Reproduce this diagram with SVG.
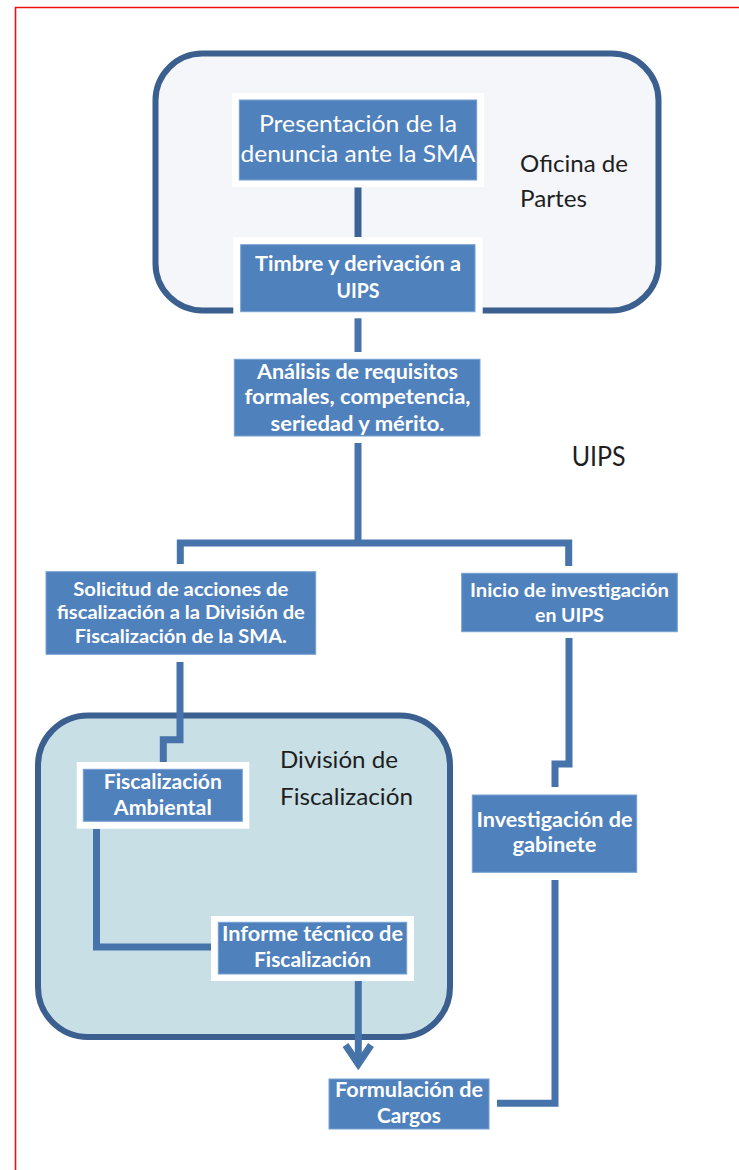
<svg xmlns="http://www.w3.org/2000/svg" width="739" height="1170" viewBox="0 0 739 1170">
<style>
.bg{fill:#ffffff}
.border{fill:none;stroke:#f01010;stroke-width:1.6}
.cont1{fill:#f4f6f9;stroke:#3b5f8e;stroke-width:6}
.cont2{fill:#c8dfe6;stroke:#3b5f8e;stroke-width:6}
.frame{fill:#ffffff}
.box{fill:#4f81bd;stroke:#76a0d2;stroke-width:1}
.bt{font-family:Lato,"Liberation Sans",sans-serif;font-weight:bold;fill:#ffffff;text-anchor:middle}
.rt{font-family:Lato,"Liberation Sans",sans-serif;font-weight:normal;fill:#ffffff;text-anchor:middle}
.lbl{font-family:Lato,"Liberation Sans",sans-serif;fill:#1e1e1e}
.conn{fill:none;stroke:#4673aa;stroke-width:7;stroke-linejoin:miter;stroke-linecap:butt}
.conn-dark{fill:none;stroke:#3d6394;stroke-width:7;stroke-linecap:butt}
</style>
<rect class="bg" x="0" y="0" width="739" height="1170"/>
<path class="border" d="M739,7.5 H15.5 V1170"/>

<g id="oficina-de-partes">
  <rect class="cont1" x="155.5" y="53.5" width="503" height="257" rx="47" ry="47"/>
  <text class="lbl" font-size="23" x="520" y="171.7" textLength="108" lengthAdjust="spacingAndGlyphs">Oficina de</text>
  <text class="lbl" font-size="23" x="520" y="206.7" textLength="67" lengthAdjust="spacingAndGlyphs">Partes</text>
</g>

<g id="division-de-fiscalizacion">
  <rect class="cont2" x="38" y="715.5" width="412" height="321.5" rx="50" ry="50"/>
  <text class="lbl" font-size="23" x="280" y="768.3" textLength="118" lengthAdjust="spacingAndGlyphs">División de</text>
  <text class="lbl" font-size="23" x="280" y="805" textLength="133" lengthAdjust="spacingAndGlyphs">Fiscalización</text>
</g>

<g id="uips-label">
  <text class="lbl" font-size="26" x="571.7" y="465.7" textLength="54" lengthAdjust="spacingAndGlyphs">UIPS</text>
</g>

<g id="connectors">
  <path class="conn-dark" d="M358,187.5 V237"/>
  <path class="conn" d="M358,318 V352"/>
  <path class="conn" d="M358,443 V543"/>
  <path class="conn" d="M180.3,564 V543 H568.7 V566"/>
  <path class="conn" d="M180,662 V739.8 H163.3 V762"/>
  <path class="conn" d="M96.5,829 V947 H211"/>
  <path class="conn" d="M358.3,974 V1063"/>
  <path class="conn" d="M345.5,1045 L358.3,1064 L371,1045"/>
  <path class="conn" d="M569,638 V764 H555 V787"/>
  <path class="conn" d="M555,880 V1103.3 H497"/>
</g>

<g id="node-presentacion">
  <rect class="frame" x="232" y="93" width="252" height="94"/>
  <rect class="box" x="239.3" y="100" width="237.4" height="80"/>
  <text class="rt" font-size="22.5" x="358" y="132.3" textLength="198" lengthAdjust="spacingAndGlyphs">Presentación de la</text>
  <text class="rt" font-size="22.5" x="358" y="161.7" textLength="235" lengthAdjust="spacingAndGlyphs">denuncia ante la SMA</text>
</g>

<g id="node-timbre">
  <rect class="frame" x="233.3" y="237.3" width="249.4" height="81"/>
  <rect class="box" x="240.7" y="244.7" width="234.3" height="67"/>
  <text class="bt" font-size="21" x="358" y="271" textLength="206" lengthAdjust="spacingAndGlyphs">Timbre y derivación a</text>
  <text class="bt" font-size="21" x="358" y="298.3" textLength="43" lengthAdjust="spacingAndGlyphs">UIPS</text>
</g>

<g id="node-analisis">
  <rect class="box" x="234.3" y="359.3" width="245.7" height="76.7"/>
  <text class="bt" font-size="20" x="357.5" y="379.3" textLength="201" lengthAdjust="spacingAndGlyphs">Análisis de requisitos</text>
  <text class="bt" font-size="20" x="357.5" y="404" textLength="226" lengthAdjust="spacingAndGlyphs">formales, competencia,</text>
  <text class="bt" font-size="20" x="357.5" y="430.7" textLength="174" lengthAdjust="spacingAndGlyphs">seriedad y mérito.</text>
</g>

<g id="node-solicitud">
  <rect class="box" x="46" y="571.7" width="269.7" height="82.6"/>
  <text class="bt" font-size="19" x="180.8" y="596" textLength="215" lengthAdjust="spacingAndGlyphs">Solicitud de acciones de</text>
  <text class="bt" font-size="19" x="180.8" y="619.3" textLength="248" lengthAdjust="spacingAndGlyphs">fiscalización a la División de</text>
  <text class="bt" font-size="19" x="180.8" y="643.3" textLength="212" lengthAdjust="spacingAndGlyphs">Fiscalización de la SMA.</text>
</g>

<g id="node-inicio">
  <rect class="box" x="461.7" y="573.3" width="215.6" height="58.4"/>
  <text class="bt" font-size="19.5" x="569.5" y="596.7" textLength="199" lengthAdjust="spacingAndGlyphs">Inicio de investigación</text>
  <text class="bt" font-size="19.5" x="569.5" y="621.7" textLength="69" lengthAdjust="spacingAndGlyphs">en UIPS</text>
</g>

<g id="node-fiscalizacion-ambiental">
  <rect class="frame" x="76.7" y="762" width="172.6" height="66.7"/>
  <rect class="box" x="83.3" y="769.3" width="159" height="52"/>
  <text class="bt" font-size="20.5" x="162.8" y="788.7" textLength="118" lengthAdjust="spacingAndGlyphs">Fiscalización</text>
  <text class="bt" font-size="20.5" x="162.8" y="815.3" textLength="98" lengthAdjust="spacingAndGlyphs">Ambiental</text>
</g>

<g id="node-informe-tecnico">
  <rect class="frame" x="211" y="916" width="203" height="65"/>
  <rect class="box" x="218.3" y="922.3" width="188.4" height="51.7"/>
  <text class="bt" font-size="20.5" x="312.5" y="940.7" textLength="181" lengthAdjust="spacingAndGlyphs">Informe técnico de</text>
  <text class="bt" font-size="20.5" x="312.5" y="966.7" textLength="117" lengthAdjust="spacingAndGlyphs">Fiscalización</text>
</g>

<g id="node-investigacion-gabinete">
  <rect class="box" x="472.3" y="795" width="164.4" height="77.3"/>
  <text class="bt" font-size="20.5" x="554.5" y="826.7" textLength="156" lengthAdjust="spacingAndGlyphs">Investigación de</text>
  <text class="bt" font-size="20.5" x="554.5" y="851.7" textLength="84" lengthAdjust="spacingAndGlyphs">gabinete</text>
</g>

<g id="node-formulacion-cargos">
  <rect class="box" x="329" y="1079" width="160" height="50"/>
  <text class="bt" font-size="20" x="409" y="1097.3" textLength="148" lengthAdjust="spacingAndGlyphs">Formulación de</text>
  <text class="bt" font-size="20" x="409" y="1123.3" textLength="64" lengthAdjust="spacingAndGlyphs">Cargos</text>
</g>
</svg>
